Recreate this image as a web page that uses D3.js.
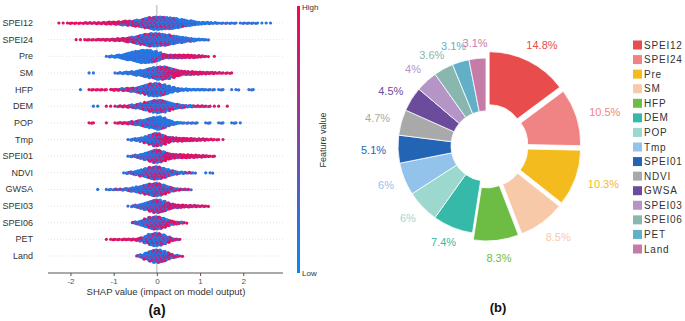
<!DOCTYPE html>
<html lang="en">
<head>
<meta charset="UTF-8">
<title>SHAP summary and feature importance</title>
<script src="https://d3js.org/d3.v7.min.js"></script>
<style>
  body { margin: 0; background: #fff; }
  svg { display: block; font-family: "Liberation Sans", Arial, sans-serif; }
</style>
</head>
<body>
<svg width="685" height="321"></svg>
<script>
// ---- data ----
var features = ["SPEI12", "SPEI24", "Pre", "SM", "HFP", "DEM", "POP", "Tmp",
                "SPEI01", "NDVI", "GWSA", "SPEI03", "SPEI06", "PET", "Land"];
var shapTicks = [-2, -1, 0, 1, 2];

// beeswarm: SHAP value of the first 0.1-wide bin, dots per bin, share of high feature values per bin
var binWidth = 0.1;
var swarmFrom = [-2.3, -1.9, -1.2, -1.6, -1.8, -1.5, -1.6, -0.7, -0.7, -0.8, -1.4, -0.7, -0.6, -1.2, -0.5];
var swarmCounts = [
  [1,1,2,2,2,2,3,3,3,4,5,6,7,8,10,13,14,16,20,24,30,36,40,40,38,36,34,30,24,20,16,12,8,6,5,4,3,2,2,2,2,1,2,2,2,2,1,1,1,1],
  [1,1,2,2,2,3,3,4,5,6,7,10,14,18,24,30,36,40,40,38,36,32,26,22,18,14,10,8,5,3,2],
  [2,4,6,10,16,22,28,34,40,40,38,32,24,14,10,10,10,10,9,9,8,6,4,2,0,1],
  [1,1,0,0,0,0,2,3,5,7,10,14,18,24,30,36,40,40,36,28,20,14,11,10,9,8,7,6,5,4,3,2,2,1],
  [1,0,2,2,2,2,1,3,4,5,7,9,12,16,22,30,38,40,38,32,24,16,10,7,5,4,3,3,3,2,2,1,2,1,0,1,2,0,0,2,1],
  [1,1,0,1,1,2,3,4,6,9,13,18,25,32,38,40,36,28,20,14,10,7,5,4,3,3,2,1,1,1,0,1],
  [2,1,0,0,1,0,2,3,4,6,9,13,18,24,30,36,40,32,20,12,6,3,2,2,2,1,0,2,1,0,2,1,0,2,1,1],
  [2,4,7,12,20,30,40,38,28,18,13,11,10,9,8,7,6,5,4,3,2,1,1],
  [2,4,8,14,22,32,40,38,30,20,14,12,11,10,9,8,7,6,4,2,1],
  [2,4,8,13,20,28,36,40,38,30,22,14,9,5,4,3,2,0,0,1,2],
  [1,0,2,2,3,3,5,8,12,17,23,30,36,40,38,30,20,12,7,4,3,2],
  [1,4,8,14,22,32,40,40,32,22,14,10,8,7,6,5,4,3,2],
  [3,8,16,26,36,40,38,30,20,12,8,5,2],
  [1,2,2,2,3,3,4,6,12,22,34,40,38,30,18,9,4,1],
  [3,10,20,32,40,40,32,22,12,6,2]
];
var swarmHigh = [
  [1,1,1,1,1,1,1,1,1,1,1,.95,.95,.9,.8,.75,.7,.65,.55,.45,.4,.4,.35,.25,.25,.2,.2,.2,.15,.15,.1,.1,.05,.05,0,0,0,0,0,0,0,0,0,0,0,0,0,0,0,0],
  [1,1,1,1,1,1,1,.95,.95,.9,.9,.85,.8,.75,.65,.55,.45,.4,.35,.3,.25,.25,.2,.2,.15,.1,.1,.05,.05,0,0],
  [0,0,0,0,0,.02,.03,.03,.03,.04,.05,.08,.3,.6,.85,.85,.9,.9,.9,.9,.9,.9,.95,1,1,1],
  [0,0,0,0,0,0,0,0,.02,.03,.05,.05,.08,.1,.2,.25,.35,.5,.6,.7,.8,.85,.9,.9,.9,.9,.95,.95,.95,1,1,1,1,1],
  [0,0,1,1,1,1,1,.8,.7,.7,.65,.6,.55,.45,.4,.35,.3,.25,.2,.2,.15,.1,.05,.05,0,0,0,0,0,0,0,0,0,0,0,0,0,0,0,0,0],
  [0,0,0,.5,.5,.5,.5,.5,.5,.45,.45,.4,.4,.35,.3,.3,.3,.3,.3,.3,.3,.3,.3,.3,.3,.3,.3,.3,.3,.3,.3,.3],
  [1,1,1,1,1,1,.95,.95,.9,.6,.55,.45,.3,.25,.2,.15,.1,.05,.05,0,0,0,0,0,0,0,0,0,0,0,0,0,0,0,0,0],
  [0,.02,.03,.05,.15,.3,.4,.55,.75,.9,.9,.95,.95,.95,.95,.95,1,1,1,1,1,1,1],
  [.05,.1,.1,.1,.15,.3,.4,.5,.65,.85,.9,.9,.95,.95,.95,.95,1,1,1,1,1],
  [.05,.1,.1,.15,.2,.35,.4,.45,.45,.45,.4,.35,.2,.1,.05,.05,0,0,0,0,0],
  [0,0,0,.02,.03,.05,.1,.15,.2,.25,.3,.35,.4,.45,.5,.55,.55,.55,.55,.55,.55,.55],
  [0,.05,.1,.1,.15,.25,.4,.5,.6,.7,.85,.9,.9,.95,.95,1,1,1,1],
  [.1,.15,.2,.25,.35,.4,.45,.55,.65,.7,.8,.85,.9],
  [1,1,1,1,1,1,.95,.9,.7,.45,.35,.3,.3,.35,.45,.55,.6,.6],
  [.1,.1,.15,.2,.35,.45,.5,.6,.7,.75,.8]
];

// feature importance donut
var shareNames = features;
var shareValues = [14.8, 10.5, 10.3, 8.5, 8.3, 7.4, 6, 6, 5.1, 4.7, 4.5, 4, 3.6, 3.1, 3.1];
var shareColors = ["#e84c4c", "#f08484", "#f4bb1e", "#f8c9a8", "#6dbd45", "#37b9aa", "#9dd8cf", "#93c3ea",
                   "#2464b4", "#a9a9a9", "#6a4b9c", "#b595c6", "#89b6ae", "#62b0c8", "#c67ca9"];
var sharePulled = [1, 1, 1, 1, 1, 0, 0, 0, 0, 0, 0, 0, 0, 0, 0];

var svg = d3.select("svg");

// ---------------- (a) beeswarm ----------------
var x = d3.scaleLinear().domain([-2.52, 2.92]).range([48, 283]);
var y = d3.scalePoint().domain(features).range([23, 256]);
var lowColor = "#008bfb", highColor = "#ff0052";
var featureColor = d3.interpolateRgb(lowColor, highColor);

var panelA = svg.append("g");

panelA.selectAll(".guide")
    .data(features)
    .enter().append("line")
    .attr("class", "guide")
    .attr("x1", 48).attr("x2", 283)
    .attr("y1", function(d) { return y(d); })
    .attr("y2", function(d) { return y(d); })
    .attr("stroke", "#d6d6d6")
    .attr("stroke-width", 0.7)
    .attr("stroke-dasharray", "1,2");

panelA.append("line")
    .attr("x1", x(0)).attr("x2", x(0))
    .attr("y1", 5).attr("y2", 273)
    .attr("stroke", "#bdbdbd")
    .attr("stroke-width", 1.2);

// stack the dots of each bin the way shap does (0, +1, -1, +2, -2 ...)
var dots = [];
features.forEach(function(f, i) {
    var counts = swarmCounts[i];
    var maxLayer = Math.ceil((d3.max(counts) - 1) / 2);
    var step = 6.3 / maxLayer;
    counts.forEach(function(n, b) {
        var lo = swarmFrom[i] + b * binWidth;
        var share = swarmHigh[i][b];
        for (var k = 0; k < n; k++) {
            var pos = (k * 0.618034 + 0.31) % 1;
            var mix = (k * 0.414214 + 0.2) % 1;
            var isHigh = mix < share;
            var shade = (k * 0.381966 + 0.5) % 1;
            var t = isHigh ? 0.68 + 0.32 * shade : 0.32 * shade;
            var layer = Math.ceil(k / 2) * ((k % 2) * 2 - 1);
            dots.push({ v: lo + pos * binWidth, row: f, dy: layer * step, t: t });
        }
    });
});

panelA.selectAll(".dot")
    .data(dots)
    .enter().append("circle")
    .attr("class", "dot")
    .attr("r", 1.6)
    .attr("cx", function(d) { return x(d.v); })
    .attr("cy", function(d) { return y(d.row) + d.dy; })
    .attr("fill", function(d) { return featureColor(d.t); });

panelA.selectAll(".flabel")
    .data(features)
    .enter().append("text")
    .attr("class", "flabel")
    .attr("x", 33)
    .attr("y", function(d) { return y(d); })
    .attr("text-anchor", "end")
    .attr("dominant-baseline", "central")
    .attr("font-size", 9)
    .attr("fill", "#333")
    .text(function(d) { return d; });

var xAxis = d3.axisBottom(x)
    .tickValues(shapTicks)
    .tickSize(3)
    .tickPadding(2)
    .tickFormat(d3.format("d"));

var axisG = panelA.append("g")
    .attr("transform", "translate(0,273)")
    .call(xAxis);
axisG.select(".domain").attr("stroke", "#555").attr("d", "M48,0H283");
axisG.selectAll(".tick line").attr("stroke", "#555");
axisG.selectAll(".tick text").attr("font-size", 8).attr("fill", "#555")
    .text(function(d) { return d < 0 ? "-" + Math.abs(d) : d; });

panelA.append("text")
    .attr("x", 166).attr("y", 295)
    .attr("text-anchor", "middle")
    .attr("font-size", 9.5)
    .attr("fill", "#333")
    .text("SHAP value (impact on model output)");

panelA.append("text")
    .attr("x", 157).attr("y", 315)
    .attr("text-anchor", "middle")
    .attr("font-size", 14)
    .attr("font-weight", "bold")
    .attr("fill", "#111")
    .text("(a)");

// colour bar
var grad = svg.append("defs").append("linearGradient")
    .attr("id", "fv").attr("x1", 0).attr("x2", 0).attr("y1", 1).attr("y2", 0);
d3.range(0, 1.01, 0.1).forEach(function(s) {
    grad.append("stop").attr("offset", s).attr("stop-color", featureColor(s));
});
panelA.append("rect")
    .attr("x", 297).attr("y", 6).attr("width", 3).attr("height", 267)
    .attr("fill", "url(#fv)");
panelA.append("text").attr("x", 302).attr("y", 7)
    .attr("dominant-baseline", "central").attr("font-size", 8).attr("fill", "#333").text("High");
panelA.append("text").attr("x", 302).attr("y", 273)
    .attr("dominant-baseline", "central").attr("font-size", 8).attr("fill", "#333").text("Low");
panelA.append("text")
    .attr("transform", "translate(326,140) rotate(-90)")
    .attr("text-anchor", "middle")
    .attr("font-size", 9)
    .attr("fill", "#333")
    .text("Feature value");

// ---------------- (b) donut ----------------
var cx = 486, cy = 146, outerR = 88, innerR = 35, pull = 7;
var pie = d3.pie().sort(null).value(function(d) { return d; });
var arc = d3.arc().innerRadius(innerR).outerRadius(outerR);
var slices = pie(shareValues);

var panelB = svg.append("g").attr("transform", "translate(" + cx + "," + cy + ")");

function midAngle(d) { return (d.startAngle + d.endAngle) / 2; }

panelB.selectAll(".slice")
    .data(slices)
    .enter().append("path")
    .attr("class", "slice")
    .attr("d", arc)
    .attr("transform", function(d, i) {
        var a = midAngle(d), dist = sharePulled[i] * pull;
        return "translate(" + (Math.sin(a) * dist) + "," + (-Math.cos(a) * dist) + ")";
    })
    .attr("fill", function(d, i) { return shareColors[i]; })
    .attr("stroke", "#fff")
    .attr("stroke-width", 0.8);

// labels sit just outside the ring; the text box is pushed outward by half its size
var pct = panelB.selectAll(".pct")
    .data(slices)
    .enter().append("text")
    .attr("class", "pct")
    .attr("text-anchor", "middle")
    .attr("dominant-baseline", "central")
    .attr("font-size", 11)
    .attr("fill", function(d, i) { return shareColors[i]; })
    .text(function(d) { return d.data + "%"; });

pct.each(function(d, i) {
    var a = midAngle(d);
    var base = outerR + 12 + sharePulled[i] * pull * 1.3;
    var w = this.getComputedTextLength();
    var px = Math.sin(a) * base + Math.sin(a) * w / 2;
    var py = -Math.cos(a) * base - Math.cos(a) * 4;
    d3.select(this).attr("x", px).attr("y", py);
});

svg.append("text")
    .attr("x", 498).attr("y", 312)
    .attr("text-anchor", "middle")
    .attr("font-size", 13)
    .attr("font-weight", "bold")
    .attr("fill", "#111")
    .text("(b)");

// legend
var ly = d3.scalePoint().domain(shareNames).range([45, 249]);
var legend = svg.append("g");
legend.selectAll("rect")
    .data(shareNames)
    .enter().append("rect")
    .attr("x", 633)
    .attr("y", function(d) { return ly(d) - 4.5; })
    .attr("width", 9).attr("height", 9)
    .attr("fill", function(d, i) { return shareColors[i]; });
legend.selectAll("text")
    .data(shareNames)
    .enter().append("text")
    .attr("x", 644)
    .attr("y", function(d) { return ly(d); })
    .attr("dominant-baseline", "central")
    .attr("font-size", 10)
    .attr("letter-spacing", 0.8)
    .attr("fill", "#333")
    .text(function(d) { return d; });
</script>
</body>
</html>
